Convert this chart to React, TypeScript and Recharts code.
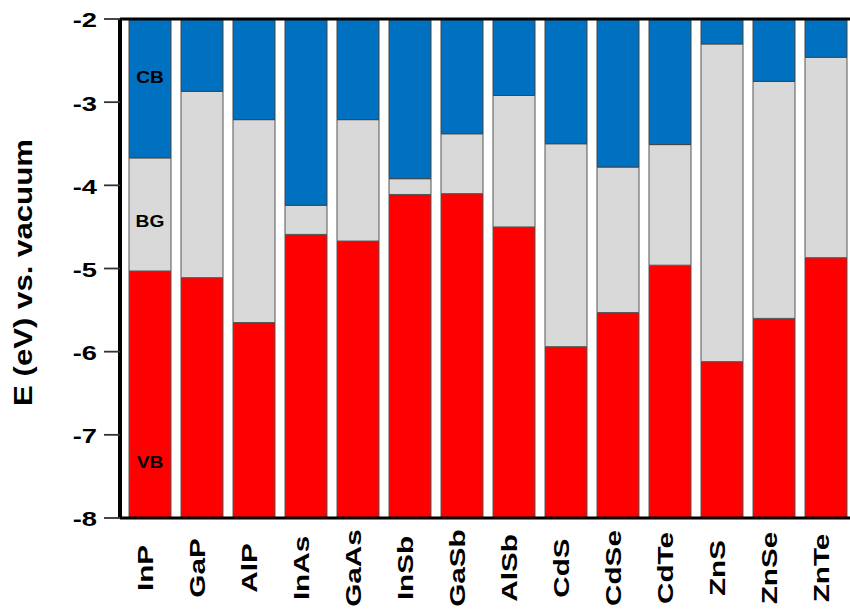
import React from 'react';
import { BarChart, Bar, XAxis, YAxis, ReferenceLine, ReferenceDot, Label } from 'recharts';

// Band edges (eV vs. vacuum) for each semiconductor
const materials = ['InP', 'GaP', 'AlP', 'InAs', 'GaAs', 'InSb', 'GaSb', 'AlSb', 'CdS', 'CdSe', 'CdTe', 'ZnS', 'ZnSe', 'ZnTe'];
const conductionBand = [-3.67, -2.87, -3.21, -4.24, -3.21, -3.92, -3.38, -2.92, -3.5, -3.78, -3.51, -2.3, -2.75, -2.46];
const valenceBand = [-5.03, -5.11, -5.65, -4.59, -4.67, -4.11, -4.1, -4.5, -5.94, -5.53, -4.96, -6.12, -5.6, -4.87];
const energyTicks = [-8, -7, -6, -5, -4, -3, -2];
const bandNotes = [
  { text: 'CB', energy: -2.7 },
  { text: 'BG', energy: -4.44 },
  { text: 'VB', energy: -7.33 },
];
const ENERGY_MIN = -8;
const ENERGY_MAX = -2;

const rows = materials.map((name, i) => ({
  name,
  vb: [ENERGY_MIN, valenceBand[i]],
  gap: [valenceBand[i], conductionBand[i]],
  cb: [conductionBand[i], ENERGY_MAX],
}));

const FONT = '"Liberation Sans", Arial, Helvetica, sans-serif';

const EnergyTick = (props: any) => {
  const { x, y, payload } = props;
  return (
    <g transform={`translate(${x},${y}) scale(1.3,1)`}>
      <text x={0} y={1} textAnchor="end" dominantBaseline="central" fontFamily={FONT} fontWeight="bold" fontSize={21} fill="#000">
        {payload.value}
      </text>
    </g>
  );
};

const MaterialTick = (props: any) => {
  const { x, y, payload } = props;
  return (
    <g transform={`translate(${x},${y + 50}) rotate(-90) scale(1.38,1)`}>
      <text x={0} y={3} textAnchor="middle" fontFamily={FONT} fontWeight="bold" fontSize={21.5} fill="#000">
        {payload.value}
      </text>
    </g>
  );
};

const AxisTitle = (props: any) => {
  const { viewBox } = props;
  const cx = viewBox.x + 23;
  const cy = viewBox.y + viewBox.height / 2 + 4;
  return (
    <g transform={`translate(${cx},${cy}) rotate(-90) scale(1.2,1)`}>
      <text x={0} y={0} textAnchor="middle" dominantBaseline="central" fontFamily={FONT} fontWeight="bold" fontSize={26} fill="#000">
        E (eV) vs. vacuum
      </text>
    </g>
  );
};

const noteShape = (text: string) => (p: any) => (
  <g transform={`translate(${p.cx},${p.cy}) scale(1.2,1)`}>
    <text x={0} y={0} textAnchor="middle" dominantBaseline="central" fontFamily={FONT} fontWeight="bold" fontSize={16} fill="#000">
      {text}
    </text>
  </g>
);

export default function App() {
  return (
    <div style={{ position: 'absolute', left: 0, top: 0, width: 850, height: 610, overflow: 'hidden', background: '#fff' }}>
      <BarChart
        width={852}
        height={610}
        data={rows}
        margin={{ top: 19, right: 0, bottom: 0, left: 0 }}
        barGap={-42}
        barSize={42}
      >
        <XAxis
          dataKey="name"
          height={92}
          padding={{ left: 4, right: 0 }}
          axisLine={{ stroke: '#000', strokeWidth: 3 }}
          tickLine={false}
          tickSize={0}
          tickMargin={0}
          interval={0}
          tick={<MaterialTick />}
        />
        <YAxis
          type="number"
          domain={[ENERGY_MIN, ENERGY_MAX]}
          ticks={energyTicks}
          width={120}
          axisLine={{ stroke: '#000', strokeWidth: 4 }}
          tickLine={{ stroke: '#333', strokeWidth: 1.8 }}
          tickSize={16}
          tickMargin={7}
          tick={<EnergyTick />}
          allowDataOverflow
        >
          <Label content={<AxisTitle />} />
        </YAxis>
        <Bar dataKey="vb" fill="#FF0000" stroke="#555" strokeWidth={1} isAnimationActive={false} />
        <Bar dataKey="gap" fill="#D9D9D9" stroke="#555" strokeWidth={1} isAnimationActive={false} />
        <Bar dataKey="cb" fill="#0070C0" stroke="#444" strokeWidth={1} isAnimationActive={false} />
        <ReferenceLine y={ENERGY_MAX} stroke="#000" strokeWidth={3} />
        {bandNotes.map((n) => (
          <ReferenceDot key={n.text} x={materials[0]} y={n.energy} r={0} shape={noteShape(n.text)} />
        ))}
      </BarChart>
    </div>
  );
}
